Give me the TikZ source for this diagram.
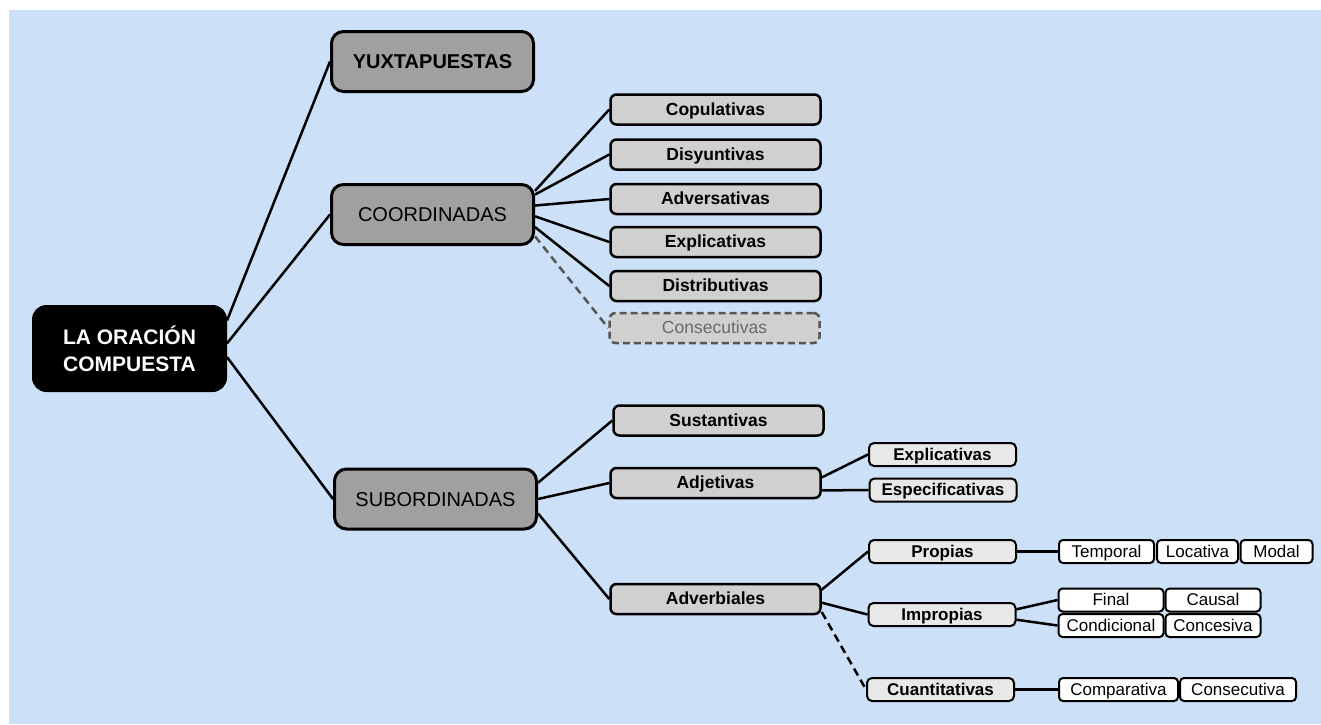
\documentclass[tikz,border=0pt]{standalone}
\usepackage{fontspec}
\setmainfont{Liberation Sans}
\usetikzlibrary{positioning}
\definecolor{bgblue}{RGB}{204,224,247}
\definecolor{topgray}{RGB}{160,160,160}
\definecolor{midgray}{RGB}{208,208,208}
\definecolor{lowgray}{RGB}{232,232,232}
\definecolor{ghostline}{RGB}{85,85,85}
\definecolor{ghosttext}{RGB}{105,105,105}

\begin{document}
\begin{tikzpicture}[
      x=1pt, y=-1pt,
      rootbox/.style={draw=black, fill=black, text=white, rounded corners=14pt, line width=1pt,
        minimum width=194pt, minimum height=86pt, inner sep=0pt, align=center,
        font=\bfseries\fontsize{21}{27}\selectfont},
      topbox/.style={draw, line width=3pt, rounded corners=12pt, fill=topgray,
        minimum width=202pt, minimum height=60pt, inner sep=0pt,
        text height=14.5pt, text depth=0pt, font=\fontsize{20}{24}\selectfont},
      midbox/.style={draw, line width=2.5pt, rounded corners=6pt, fill=midgray,
        minimum width=210pt, minimum height=30pt, inner sep=0pt,
        text height=12.5pt, text depth=1pt, font=\bfseries\fontsize{17.5}{20}\selectfont},
      ghostbox/.style={midbox, draw=ghostline, dash pattern=on 7pt off 4pt, text=ghosttext,
        font=\fontsize{17.5}{20}\selectfont},
      lowbox/.style={draw, line width=2pt, rounded corners=5pt, fill=lowgray,
        minimum width=147pt, minimum height=23pt, inner sep=0pt,
        text height=12.5pt, text depth=1pt, font=\bfseries\fontsize{17}{20}\selectfont},
      leaf/.style={draw, line width=2pt, rounded corners=4pt, fill=white,
        minimum height=23pt, inner sep=0pt, text height=12.5pt, text depth=1pt,
        font=\fontsize{17}{20}\selectfont},
      link/.style={line width=2.5pt},
      dlink/.style={link, dash pattern=on 8pt off 5pt},
    ]
    \useasboundingbox (0,0) rectangle (1321,724);
    \fill[white] (0,0) rectangle (1321,724);
    \fill[bgblue] (9,10) rectangle (1321,724);

    \node[rootbox] (root) at (129.5,348.5) {LA ORACIÓN\\COMPUESTA};
    \node[topbox, font=\bfseries\fontsize{20}{24}\selectfont] (yux) at (432.5,61.5) {YUXTAPUESTAS};
    \node[topbox] (coord) at (432.5,214.5) {COORDINADAS};
    \node[topbox] (subo) at (435.5,499) {SUBORDINADAS};

    \node[midbox] (cop) at (715.5,109.5) {Copulativas};
    \node[midbox] (dis) at (715.5,154.5) {Disyuntivas};
    \node[midbox] (adv) at (715.5,199) {Adversativas};
    \node[midbox] (expl) at (715.5,242) {Explicativas};
    \node[midbox] (distr) at (715.5,286) {Distributivas};
    \node[ghostbox] (cons) at (714.5,328) {Consecutivas};

    \node[midbox] (sust) at (718.5,420.5) {Sustantivas};
    \node[midbox] (adj) at (715.5,483) {Adjetivas};
    \node[midbox] (adve) at (715.5,599) {Adverbiales};

    \node[lowbox] (expA) at (942.5,454.5) {Explicativas};
    \node[lowbox] (espA) at (943,490) {Especificativas};
    \node[lowbox] (prop) at (942.5,551.5) {Propias};
    \node[lowbox] (impr) at (942,614.5) {Impropias};
    \node[lowbox] (cuan) at (940.5,689.5) {Cuantitativas};

    \node[leaf, minimum width=95pt] (temp) at (1106.5,551.5) {Temporal};
    \node[leaf, minimum width=81pt, right=1pt of temp] (loc) {Locativa};
    \node[leaf, minimum width=72pt, right=0.5pt of loc] (modal) {Modal};
    \node[leaf, minimum width=105pt] (final) at (1111,600) {Final};
    \node[leaf, minimum width=95pt, right=0pt of final] (causal) {Causal};
    \node[leaf, minimum width=105pt, below=0.5pt of final] (cond) {Condicional};
    \node[leaf, minimum width=95pt, right=0pt of cond] (conc) {Concesiva};
    \node[leaf, minimum width=119pt] (comp) at (1118.5,689.5) {Comparativa};
    \node[leaf, minimum width=116pt, right=0pt of comp] (consec) {Consecutiva};

    \draw[link] (root.16) -- (yux.west);
    \draw[link] (root.3) -- (coord.west);
    \draw[link] (root.-5) -- (subo.west);
    \draw[link] (coord.13) -- (cop.west);
    \draw[link] (coord.11) -- (dis.west);
    \draw[link] (coord.5) -- (adv.west);
    \draw[link] (coord.-1) -- (expl.west);
    \draw[link] (coord.-7) -- (distr.west);
    \draw[dlink, draw=ghostline] (coord.-12) -- (cons.west);
    \draw[link] (subo.9) -- (sust.west);
    \draw[link] (subo.east) -- (adj.west);
    \draw[link] (subo.-8) -- (adve.west);
    \draw[link] (adj.3) -- (expA.west);
    \draw[link] (adj.-4) -- (espA.west);
    \draw[link] (adve.5) -- (prop.west);
    \draw[link] (adve.-2) -- (impr.west);
    \draw[dlink] (adve.-7) -- (cuan.west);
    \draw[link] (prop) -- (temp);
    \draw[link] (impr.4) -- (final.west);
    \draw[link] (impr.-4) -- (cond.west);
    \draw[link] (cuan) -- (comp);
  \end{tikzpicture}
\end{document}
